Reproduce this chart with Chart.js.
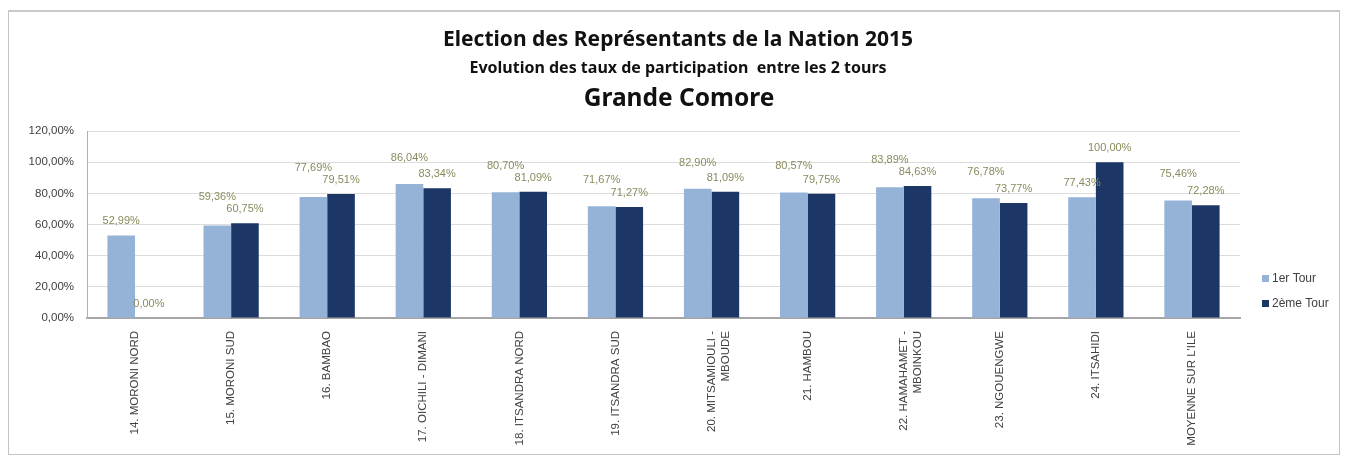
<!DOCTYPE html>
<html>
<head>
<meta charset="utf-8">
<script src="https://cdn.jsdelivr.net/npm/chart.js@4.4.0/dist/chart.umd.min.js"></script>
<style>
  html, body { margin: 0; padding: 0; background: #ffffff; }
  #wrap { position: absolute; left: 0; top: 0; width: 1345px; height: 462px; }
</style>
</head>
<body>
<div id="wrap"><canvas id="c" width="1345" height="462"></canvas></div>
<script>
const categories = [
  "14. MORONI NORD",
  "15. MORONI SUD",
  "16. BAMBAO",
  "17. OICHILI - DIMANI",
  "18. ITSANDRA NORD",
  "19. ITSANDRA SUD",
  ["20. MITSAMIOULI -", "MBOUDE"],
  "21. HAMBOU",
  ["22. HAMAHAMET -", "MBOINKOU"],
  "23. NGOUENGWE",
  "24. ITSAHIDI",
  "MOYENNE SUR L'ILE"
];
const tour1 = [52.99, 59.36, 77.69, 86.04, 80.70, 71.67, 82.90, 80.57, 83.89, 76.78, 77.43, 75.46];
const tour2 = [0.00, 60.75, 79.51, 83.34, 81.09, 71.27, 81.09, 79.75, 84.63, 73.77, 100.00, 72.28];
const seriesNames = ["1er Tour", "2ème Tour"];
const yTickValues = [0, 20, 40, 60, 80, 100, 120];
const titleLines = [
  "Election des Représentants de la Nation 2015",
  "Evolution des taux de participation  entre les 2 tours",
  "Grande Comore"
];

const COL1 = "#95b3d7";
const COL2 = "#1c3665";
const fmt = v => v.toFixed(2).replace('.', ',') + '%';

const framePlugin = {
  id: 'frame',
  beforeDraw(chart) {
    const ctx = chart.ctx;
    ctx.save();
    ctx.fillStyle = '#ffffff';
    ctx.fillRect(0, 0, chart.width, chart.height);
    ctx.strokeStyle = '#c4c4c4';
    ctx.lineWidth = 1;
    ctx.strokeRect(8.5, 11.5, 1331, 443);
    ctx.fillStyle = '#c8c8c8';
    ctx.fillRect(8, 10, 1332, 2);
    ctx.restore();
  },
  afterDraw(chart) {
    const ctx = chart.ctx;
    ctx.save();
    ctx.fillStyle = '#111111';
    ctx.textAlign = 'center';
    ctx.textBaseline = 'middle';
    ctx.font = 'bold 21px "Noto Sans"';
    ctx.fillText(titleLines[0], 678, 40);
    ctx.font = 'bold 16px "Noto Sans"';
    ctx.fillText(titleLines[1], 678, 68);
    ctx.font = 'bold 24.5px "Noto Sans"';
    ctx.fillText(titleLines[2], 679, 99);
    // legend
    ctx.textAlign = 'left';
    ctx.font = '12px "Liberation Sans"';
    const cols = [COL1, COL2];
    chart.data.datasets.forEach((ds, i) => {
      const y = 279 + i * 25;
      ctx.fillStyle = cols[i];
      ctx.fillRect(1262, y - 4, 7, 7);
      ctx.fillStyle = '#404040';
      ctx.fillText(ds.label, 1272, y);
    });
    ctx.restore();
  }
};

const labelPlugin = {
  id: 'valueLabels',
  afterDatasetsDraw(chart) {
    const ctx = chart.ctx;
    const m1 = chart.getDatasetMeta(0).data;
    const m2 = chart.getDatasetMeta(1).data;
    ctx.save();
    ctx.font = '11px "Liberation Sans"';
    ctx.fillStyle = '#8a8a5e';
    ctx.textAlign = 'center';
    ctx.textBaseline = 'middle';
    for (let i = 0; i < m1.length; i++) {
      const b1 = m1[i], b2 = m2[i];
      const y1 = (Math.abs(b1.y - b2.y) < 20) ? Math.min(b1.y, b2.y) - 26 : b1.y - 14;
      ctx.fillText(fmt(tour1[i]), b1.x, y1);
      ctx.fillText(fmt(tour2[i]), b2.x, b2.y - 14);
    }
    ctx.restore();
  }
};

new Chart(document.getElementById('c'), {
  type: 'bar',
  data: {
    labels: categories,
    datasets: [
      { label: seriesNames[0], data: tour1, backgroundColor: COL1 },
      { label: seriesNames[1], data: tour2, backgroundColor: COL2 }
    ]
  },
  plugins: [framePlugin, labelPlugin],
  options: {
    responsive: false,
    animation: false,
    devicePixelRatio: 1,
    layout: { padding: { left: 0, right: 105, top: 131, bottom: 0 } },
    datasets: { bar: { categoryPercentage: 0.575, barPercentage: 1.0 } },
    plugins: { legend: { display: false }, title: { display: false }, tooltip: { enabled: false } },
    scales: {
      x: {
        grid: { display: false, drawTicks: false },
        border: { display: true, color: '#a6a6a6', width: 2 },
        afterFit(scale) { scale.height = 144; },
        ticks: {
          autoSkip: false,
          maxRotation: 90,
          minRotation: 90,
          padding: 13,
          color: '#404040',
          font: { family: 'Liberation Sans', size: 11.5 }
        }
      },
      y: {
        min: 0,
        max: 120,
        afterFit(scale) { scale.width = 87; },
        afterBuildTicks(scale) { scale.ticks = yTickValues.map(v => ({ value: v })); },
        grid: { color: '#dcdcdc', drawTicks: false },
        border: { display: true, color: '#b0b0b0', width: 1 },
        ticks: {
          padding: 13,
          color: '#404040',
          font: { family: 'Liberation Sans', size: 11.5 },
          callback: v => fmt(v)
        }
      }
    }
  }
});
</script>
</body>
</html>
